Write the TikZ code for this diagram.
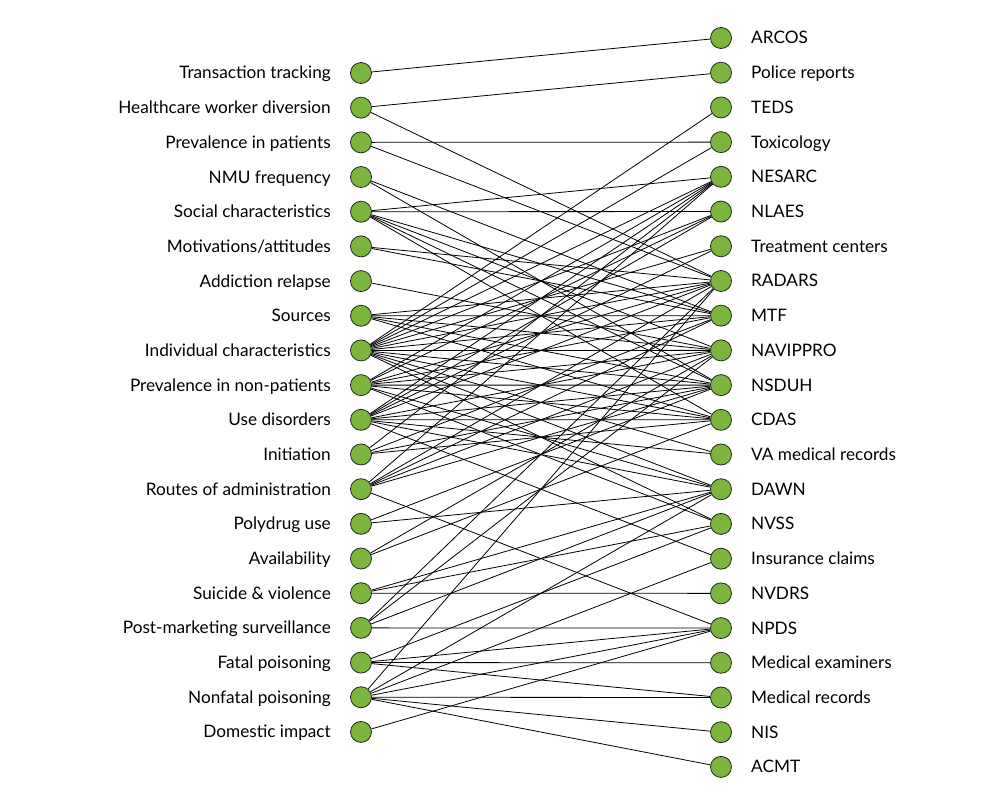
\documentclass[tikz,border=0pt]{standalone}
\usepackage{fontspec}
\setmainfont{Lato}
\usetikzlibrary{backgrounds}
\definecolor{nodegreen}{RGB}{124,181,60}
\begin{document}
\begin{tikzpicture}[x=1pt,y=-1pt,
  dot/.style={circle,draw=black!85,line width=0.8pt,fill=nodegreen,minimum size=21pt,inner sep=0pt},
  edge/.style={line width=0.8pt,black},
  lab/.style={font=\fontsize{17.2}{20}\selectfont,inner sep=0pt}]
\useasboundingbox (0,0) rectangle (993,805);
\foreach \t [count=\i from 0] in {Transaction tracking,Healthcare worker diversion,Prevalence in patients,NMU frequency,Social characteristics,Motivations/attitudes,Addiction relapse,Sources,Individual characteristics,Prevalence in non-patients,Use disorders,Initiation,Routes of administration,Polydrug use,Availability,Suicide \& violence,Post-marketing surveillance,Fatal poisoning,Nonfatal poisoning,Domestic impact}{
  \node[dot] (l\i) at (361,73+34.68*\i) {};
  \node[lab,anchor=base east] (ll\i) at (331,79+34.68*\i) {\t};
}
\foreach \t [count=\j from 0] in {ARCOS,Police reports,TEDS,Toxicology,NESARC,NLAES,Treatment centers,RADARS,MTF,NAVIPPRO,NSDUH,CDAS,VA medical records,DAWN,NVSS,Insurance claims,NVDRS,NPDS,Medical examiners,Medical records,NIS,ACMT}{
  \node[dot] (r\j) at (721,38+34.71*\j) {};
  \node[lab,anchor=base west] (rl\j) at (751,44+34.71*\j) {\t};
}
\begin{pgfonlayer}{background}
\foreach \a/\b in {0/0,1/1,1/7,2/3,2/7,3/8,3/10,
  4/4,4/5,4/8,4/9,4/10,4/11,
  5/7,5/8,6/9,
  7/7,7/8,7/9,7/10,7/11,
  8/2,8/3,8/4,8/5,8/6,8/7,8/8,8/9,8/10,8/11,8/12,8/13,8/14,
  9/4,9/5,9/7,9/8,9/9,9/10,9/11,9/13,9/14,
  10/4,10/5,10/6,10/7,10/9,10/10,10/11,10/12,10/13,10/15,
  11/4,11/8,11/10,11/11,
  12/4,12/7,12/8,12/9,12/10,12/17,
  13/10,13/13,14/9,14/11,
  15/13,15/14,15/16,
  16/7,16/9,16/13,16/17,
  17/14,17/17,17/18,17/19,
  18/7,18/13,18/15,18/17,18/19,18/20,18/21,
  19/17}
  \draw[edge] (l\a) -- (r\b);
\end{pgfonlayer}
\end{tikzpicture}
\end{document}
